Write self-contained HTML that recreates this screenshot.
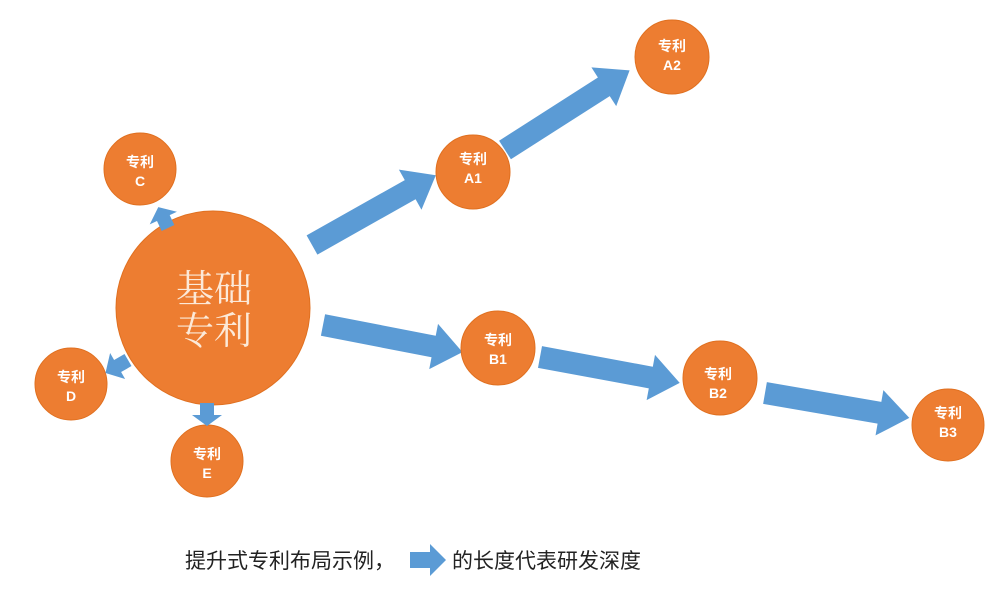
<!DOCTYPE html>
<html><head><meta charset="utf-8"><style>
html,body{margin:0;padding:0;background:#fff;}
svg{display:block;}
.s{font-family:"Liberation Sans","Noto Sans CJK SC",sans-serif;font-weight:bold;fill:#fff;font-size:14px;text-anchor:middle;}
</style></head><body>
<svg width="1000" height="613" viewBox="0 0 1000 613" xmlns="http://www.w3.org/2000/svg">
<defs>
<polygon id="big" points="0,-11 115,-11 115,-23 145,0 115,23 115,11 0,11"/>
</defs>
<g fill="#5B9BD5">
<g transform="translate(312,245) rotate(-29.4) scale(0.98,1)"><use href="#big"/></g>
<g transform="translate(505,150) rotate(-32.6) scale(1.02,1)"><use href="#big"/></g>
<g transform="translate(323,325) rotate(11) scale(0.98,1)"><use href="#big"/></g>
<g transform="translate(540,357) rotate(10.5) scale(0.98,1)"><use href="#big"/></g>
<g transform="translate(765,393) rotate(9.8) scale(1.01,1)"><use href="#big"/></g>
<polygon points="410,552 430,552 430,544 446,560 430,576 430,568 410,568"/>
</g>
<g fill="#ED7D31" stroke="#E07020" stroke-width="1">
<circle cx="213" cy="308" r="97"/>
<circle cx="140" cy="169" r="36"/>
<circle cx="71" cy="384" r="36"/>
<circle cx="207" cy="461" r="36"/>
<circle cx="473" cy="172" r="37"/>
<circle cx="672" cy="57" r="37"/>
<circle cx="498" cy="348" r="37"/>
<circle cx="720" cy="378" r="37"/>
<circle cx="948" cy="425" r="36"/>
</g>
<g fill="#5B9BD5">
<g transform="translate(168,228) rotate(-115)"><polygon points="0,-7 11,-7 11,-15 23,0 11,15 11,7 0,7"/></g>
<g transform="translate(128,360) rotate(150)"><polygon points="0,-7 12,-7 12,-15 26,0 12,15 12,7 0,7"/></g>
<g transform="translate(207,403) rotate(90)"><polygon points="0,-7 12,-7 12,-15 23,0 12,15 12,7 0,7"/></g>
</g>
<g font-family="'Liberation Serif','Noto Serif CJK SC',serif" font-size="38" fill="#FCE9D8" text-anchor="middle">
<text x="214" y="302">基础</text>
<text x="214" y="344">专利</text>
</g>
<g class="s">
<text x="140" y="167">专利</text><text x="140" y="186">C</text>
<text x="71" y="382">专利</text><text x="71" y="401">D</text>
<text x="207" y="459">专利</text><text x="207" y="478">E</text>
<text x="473" y="164">专利</text><text x="473" y="183">A1</text>
<text x="672" y="51">专利</text><text x="672" y="70">A2</text>
<text x="498" y="345">专利</text><text x="498" y="364">B1</text>
<text x="718" y="379">专利</text><text x="718" y="398">B2</text>
<text x="948" y="418">专利</text><text x="948" y="437">B3</text>
</g>
<g font-family="'Liberation Sans','Noto Sans CJK SC',sans-serif" font-size="21" fill="#222">
<text x="185" y="568">提升式专利布局示例，</text>
<text x="452" y="568">的长度代表研发深度</text>
</g>
</svg>
</body></html>
